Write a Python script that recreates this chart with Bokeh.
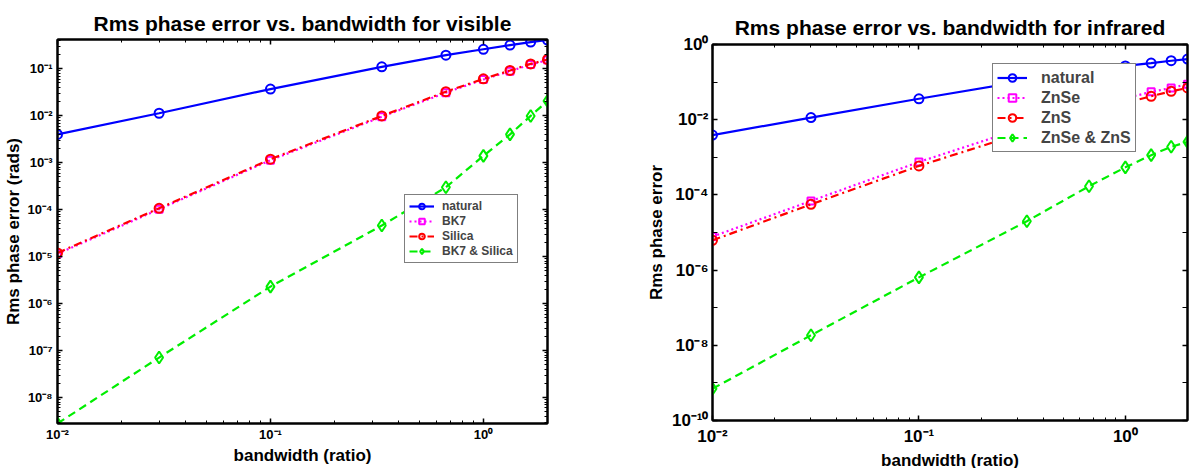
from bokeh.plotting import figure
from bokeh.models import LogAxis, FixedTicker, Legend, LegendItem, Range1d, Spacer
from bokeh.layouts import row, column
from bokeh.embed import file_html
from bokeh.resources import INLINE

# ---------------- data ----------------
bandwidth = [0.01, 0.03, 0.1, 1 / 3, 2 / 3, 1.0, 4 / 3, 5 / 3, 2.0]

vis_natural = [0.0040, 0.0113, 0.037, 0.110, 0.195, 0.26, 0.32, 0.37, 0.41]
vis_bk7 = [1.15e-5, 1.02e-4, 1.13e-3, 9.5e-3, 3.1e-2, 5.9e-2, 8.9e-2, 1.23e-1, 1.53e-1]
vis_silica = [1.2e-5, 1.07e-4, 1.19e-3, 9.9e-3, 3.25e-2, 6.1e-2, 9.2e-2, 1.27e-1, 1.58e-1]
vis_both = [2.8e-9, 7.1e-8, 2.3e-6, 4.6e-5, 3.0e-4, 1.4e-3, 4.0e-3, 9.9e-3, 2.06e-2]

ir_natural = [0.0039, 0.0114, 0.036, 0.110, 0.195, 0.27, 0.32, 0.37, 0.41]
ir_znse = [7.8e-6, 6.9e-5, 7.5e-4, 6.5e-3, 2.0e-2, 3.7e-2, 5.5e-2, 7.0e-2, 8.8e-2]
ir_zns = [6.2e-6, 5.6e-5, 5.9e-4, 4.8e-3, 1.5e-2, 2.8e-2, 4.2e-2, 5.7e-2, 7.0e-2]
ir_both = [7.0e-10, 1.85e-8, 6.4e-7, 2.0e-5, 1.7e-4, 5.4e-4, 1.14e-3, 1.9e-3, 2.57e-3]

x_major_exp = [-2, -1, 0]
vis_y_major_exp = [-8, -7, -6, -5, -4, -3, -2, -1]
ir_y_label_exp = [-10, -8, -6, -4, -2, 0]
ir_y_unlabeled_exp = [-9, -7, -5, -3, -1]

FONT = "Liberation Sans"
SUP = str.maketrans("-0123456789", "\u207b\u2070\u00b9\u00b2\u00b3\u2074\u2075\u2076\u2077\u2078\u2079")


def pow_label(e):
    return "10" + str(e).translate(SUP)


def minor_list(exps, lo, hi):
    out = []
    for e in range(min(exps) - 1, max(exps) + 1):
        for m in range(2, 10):
            v = m * 10.0 ** e
            if lo <= v <= hi:
                out.append(v)
    return out


def style_axis(ax, size, labels=True):
    ax.axis_line_width = 2
    ax.axis_line_color = "black"
    ax.major_tick_in = 5
    ax.major_tick_out = 0
    ax.minor_tick_in = 3
    ax.minor_tick_out = 0
    ax.major_tick_line_width = 1.5
    ax.minor_tick_line_width = 1
    ax.major_label_text_font = FONT
    ax.major_label_text_font_style = "bold"
    ax.major_label_text_color = "black"
    if labels:
        ax.major_label_text_font_size = size
    else:
        ax.major_label_text_font_size = "1px"
        ax.major_label_text_alpha = 0
        ax.major_label_standoff = 0
        ax.axis_label_standoff = 0
    ax.axis_label_text_font = FONT
    ax.axis_label_text_font_style = "bold"
    ax.axis_label_text_font_size = "17px"
    ax.axis_label_text_color = "black"


def make_plot(title, ylabel, y_rng, xt, yt, x_over, y_over, tick_size,
              fw, fh, mbl, mbr, mbt, mbb, ylab_standoffs, xlab_standoffs, minor_in,
              title_standoff):
    p = figure(x_axis_type="log", y_axis_type="log",
               x_range=Range1d(0.01, 2.0), y_range=Range1d(*y_rng),
               frame_width=fw, frame_height=fh,
               min_border_left=mbl, min_border_right=mbr,
               min_border_top=mbt, min_border_bottom=mbb,
               output_backend="svg", toolbar_location=None)
    p.background_fill_color = "white"
    p.border_fill_color = "white"
    p.outline_line_color = "black"
    p.outline_line_width = 2
    p.xgrid.visible = False
    p.ygrid.visible = False
    p.title.text = title
    p.title.text_font = FONT
    p.title.text_font_style = "bold"
    p.title.text_font_size = "21px"
    p.title.text_color = "black"
    p.title.align = "center"
    p.title.standoff = title_standoff

    xa = p.xaxis[0]
    ya = p.yaxis[0]
    xa.ticker = xt
    ya.ticker = yt
    style_axis(xa, tick_size)
    style_axis(ya, tick_size)
    ya.minor_tick_in = minor_in
    xa.major_label_overrides = x_over
    ya.major_label_overrides = y_over
    xa.axis_label = "bandwidth (ratio)"
    ya.axis_label = ylabel
    ya.major_label_standoff, ya.axis_label_standoff = ylab_standoffs
    xa.major_label_standoff, xa.axis_label_standoff = xlab_standoffs

    top = LogAxis(ticker=xt)
    style_axis(top, tick_size, labels=False)
    p.add_layout(top, "above")
    right = LogAxis(ticker=yt)
    style_axis(right, tick_size, labels=False)
    right.minor_tick_in = minor_in
    p.add_layout(right, "right")
    return p


def add_series(p, y, color, dash, marker, msize):
    l = p.line(bandwidth, y, line_color=color, line_width=2.2, line_dash=dash)
    s = p.scatter(bandwidth, y, marker=marker, size=msize, line_color=color,
                  line_width=2, fill_color=None)
    return [l, s]


def style_legend(leg, fsize, gw, gh, standoff):
    leg.border_line_color = "black"
    leg.border_line_width = 1.5
    leg.background_fill_color = "white"
    leg.background_fill_alpha = 1
    leg.label_text_font = FONT
    leg.label_text_font_style = "bold"
    leg.label_text_font_size = fsize
    leg.glyph_width = gw
    leg.glyph_height = gh
    leg.label_height = gh
    leg.label_standoff = standoff
    leg.padding = 4
    leg.spacing = 1
    leg.margin = 0


# x ticks (shared)
x_ticks = [10.0 ** e for e in x_major_exp]
x_over = {10.0 ** e: pow_label(e) for e in x_major_exp}

# ---------------- visible ----------------
vis_ylo, vis_yhi = 2.8e-9, 0.42
vis_xt = FixedTicker(ticks=x_ticks, minor_ticks=minor_list(x_major_exp, 0.01, 2.0))
vis_yt = FixedTicker(ticks=[10.0 ** e for e in vis_y_major_exp],
                     minor_ticks=minor_list(vis_y_major_exp, vis_ylo, vis_yhi))
vis_yover = {10.0 ** e: pow_label(e) for e in vis_y_major_exp}

p1 = make_plot("Rms phase error vs. bandwidth for visible", "Rms phase error (rads)",
               (vis_ylo, vis_yhi), vis_xt, vis_yt, x_over, vis_yover, "13px",
               490, 384, 57, 53, 39, 45, (5, 2), (3, 1), 3, 10)

r_nat = add_series(p1, vis_natural, "#0000ff", "solid", "circle", 9)
r_bk7 = add_series(p1, vis_bk7, "#ff00ff", "2 3", "square", 7)
r_sil = add_series(p1, vis_silica, "#ff0000", "8 4 2 4", "circle", 9)
r_both = add_series(p1, vis_both, "#00ee00", "8 5", "diamond", 12)

leg1 = Legend(items=[LegendItem(label="natural", renderers=r_nat),
                     LegendItem(label="BK7", renderers=r_bk7),
                     LegendItem(label="Silica", renderers=r_sil),
                     LegendItem(label="BK7 & Silica", renderers=r_both)],
              location=(347, 160))
style_legend(leg1, "12px", 25, 14, 8)
p1.add_layout(leg1)

# ---------------- infrared ----------------
ir_ylo, ir_yhi = 1e-10, 1.0
ir_xt = FixedTicker(ticks=x_ticks, minor_ticks=minor_list(x_major_exp, 0.01, 2.0))
ir_yt = FixedTicker(ticks=[10.0 ** e for e in ir_y_label_exp],
                    minor_ticks=[10.0 ** e for e in ir_y_unlabeled_exp])
ir_yover = {10.0 ** e: pow_label(e) for e in ir_y_label_exp}

p2 = make_plot("Rms phase error vs. bandwidth for infrared", "Rms phase error",
               (ir_ylo, ir_yhi), ir_xt, ir_yt, x_over, ir_yover, "17px",
               475, 376, 112, 5, 39, 48, (4, 3), (6, 2), 5, 11)

q_nat = add_series(p2, ir_natural, "#0000ff", "solid", "circle", 9)
q_znse = add_series(p2, ir_znse, "#ff00ff", "2 3", "square", 7)
q_zns = add_series(p2, ir_zns, "#ff0000", "8 4 2 4", "circle", 9)
q_both = add_series(p2, ir_both, "#00ee00", "8 5", "diamond", 12)

leg2 = Legend(items=[LegendItem(label="natural", renderers=q_nat),
                     LegendItem(label="ZnSe", renderers=q_znse),
                     LegendItem(label="ZnS", renderers=q_zns),
                     LegendItem(label="ZnSe & ZnS", renderers=q_both)],
              location=(280, 268))
style_legend(leg2, "16px", 30, 19, 14)
p2.add_layout(leg2)

layout = row(p1, column(Spacer(width=592, height=5), p2))
open("out.html", "w").write(file_html(layout, INLINE))
